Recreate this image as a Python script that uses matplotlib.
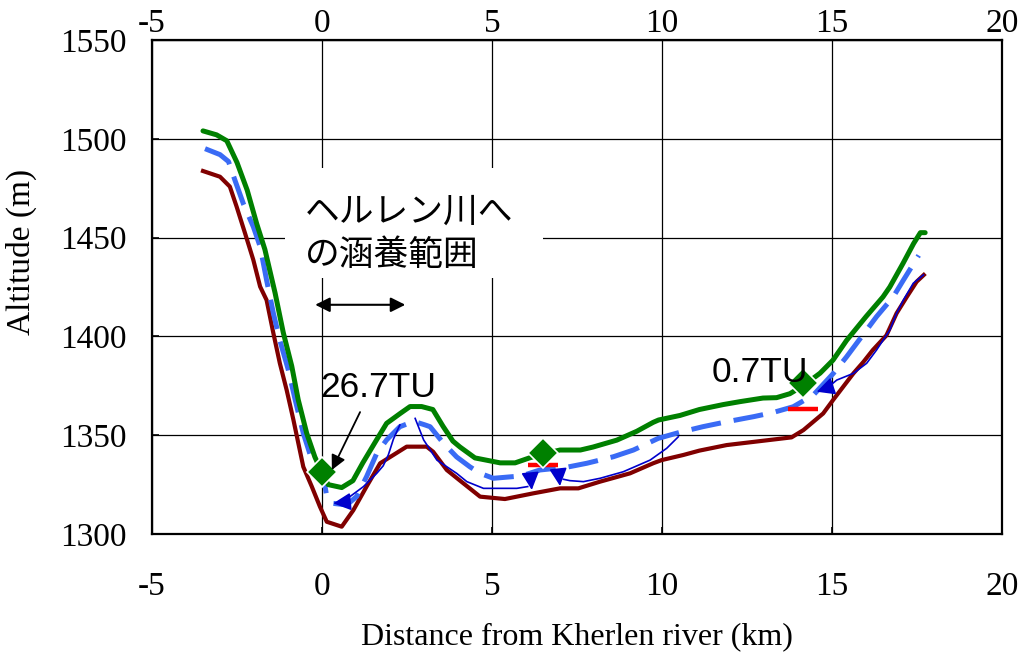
import matplotlib
matplotlib.use("Agg")
import matplotlib.pyplot as plt
from matplotlib.patches import Rectangle

# ground surface (green)
ground_x = [-3.5, -3.1, -2.8, -2.5, -2.2, -1.92, -1.68, -1.38, -1.14, -0.89, -0.7, -0.45, -0.21, 0.0,
            0.18, 0.58, 0.91, 1.2, 1.6, 1.9, 2.3, 2.59, 2.93, 3.26, 3.56, 3.85, 4.06, 4.5, 5.24, 5.68,
            6.1, 6.5, 7.0, 7.6, 7.97, 8.67, 9.26, 9.74, 9.9, 10.53, 11.1, 11.8, 12.3, 12.97, 13.37,
            13.76, 14.15, 14.65, 15.03, 15.43, 16.0, 16.5, 16.7, 17.09, 17.4, 17.6, 17.74]
ground_y = [1504, 1502, 1499, 1488, 1474, 1457, 1444, 1422, 1402, 1385, 1368, 1351, 1339, 1331,
            1325, 1323.5, 1327, 1336, 1347.5, 1356, 1361, 1364.5, 1364.5, 1363, 1354.5, 1347, 1344,
            1338.5, 1336, 1336, 1338.5, 1340.5, 1342.5, 1342.5, 1344, 1347.5, 1352, 1356.5, 1357.7,
            1360, 1363, 1365.5, 1367, 1368.8, 1369, 1371, 1375, 1381.4, 1388, 1398, 1410, 1420, 1425,
            1437, 1447, 1452.5, 1452.5]

# groundwater table (blue dashed)
water_x = [-3.44, -3.0, -2.75, -2.56, -2.31, -2.02, -1.82, -1.63, -1.43, -1.24, -0.99, -0.79, -0.55,
           -0.3, 0.09, 0.14, 0.33, 0.73, 1.02, 1.31, 1.61, 1.9, 2.29, 2.7, 3.03, 3.18, 3.57, 3.96,
           4.35, 4.65, 5.04, 5.87, 6.41, 7.2, 7.79, 8.57, 9.16, 9.89, 10.53, 11.2, 11.9, 12.7, 13.27,
           13.86, 14.45, 15.04, 15.43, 15.92, 16.31, 16.8, 17.1, 17.55]
water_y = [1495, 1492, 1488.5, 1479, 1467, 1455.5, 1445.5, 1428.5, 1411.7, 1398, 1383, 1368, 1351,
           1337.5, 1324, 1319, 1315.5, 1314.7, 1319, 1329, 1340.8, 1347.6, 1354.3, 1357, 1355.2,
           1354.3, 1346, 1339, 1334, 1330.7, 1328.2, 1329.4, 1332.4, 1333.8, 1335.8, 1339.1, 1342.5,
           1348.4, 1351.5, 1354.3, 1356.8, 1359.4, 1361.5, 1364.4, 1370.3, 1381.3, 1389.7, 1401,
           1410, 1420, 1428.5, 1441]

# aquifer bottom (dark red)
base_x = [-3.5, -3.0, -2.71, -2.51, -2.26, -2.02, -1.82, -1.63, -1.43, -1.24, -1.04, -0.84, -0.55,
          -0.3, -0.06, 0.14, 0.58, 0.92, 1.31, 1.71, 2.1, 2.49, 3.08, 3.27, 3.67, 4.06, 4.65, 5.38,
          6.22, 7.0, 7.54, 8.18, 9.06, 9.74, 9.99, 10.63, 11.1, 11.9, 12.88, 13.81, 14.16, 14.74,
          15.04, 15.63, 15.92, 16.2, 16.6, 16.9, 17.2, 17.49, 17.7]
base_y = [1483.7, 1480.8, 1475.8, 1465.6, 1452, 1438.7, 1425.2, 1418.4, 1401.6, 1386.4, 1372.9,
          1357.7, 1334, 1324, 1313.8, 1306.2, 1303.7, 1312, 1324, 1335.8, 1340, 1344.2, 1344.2,
          1341.6, 1332.4, 1327, 1318.9, 1317.7, 1320.6, 1323.1, 1323.1, 1326.5, 1330.7, 1335.8,
          1337.4, 1340, 1342.2, 1345, 1347, 1348.9, 1352.6, 1361, 1368, 1381.3, 1387, 1393.1,
          1400.5, 1411.7, 1420, 1427.7, 1431.1]

# flow lines (thin blue) and their arrow heads (base -> tip)
flow1_x = [2.29, 2.1, 1.95, 1.8, 1.61, 1.22, 0.82]
flow1_y = [1355.2, 1348, 1340, 1334.5, 1330.7, 1324, 1318.9]
flow2_x = [2.74, 2.99, 3.38, 3.96, 4.26, 4.75, 5.73, 6.05]
flow2_y = [1358.5, 1347.6, 1337.4, 1330.7, 1326.5, 1323.1, 1323.1, 1324]
flow3_x = [10.48, 10.14, 9.65, 8.86, 8.18, 7.69, 7.29, 7.1]
flow3_y = [1349.2, 1343.4, 1337.4, 1331.5, 1328.2, 1326.5, 1327, 1327.7]
flow4_x = [17.69, 17.39, 17.1, 16.9, 16.7, 16.31, 16.02, 15.63, 15.14, 14.95]
flow4_y = [1431.1, 1426.9, 1418.4, 1411.7, 1403.2, 1393.1, 1386.4, 1381.3, 1377.9, 1375.2]
head_base = [(0.78, 1316.3), (6.14, 1327.8), (6.96, 1330.7), (14.99, 1374.6)]
head_tip = [(0.33, 1315.5), (6.17, 1322.3), (7.0, 1324.3), (14.55, 1372.0)]

# tritium sample points
sample_x = [0.0, 6.5, 14.15]
sample_y = [1331.5, 1341, 1376.3]

# well screens (red)
screen_x0 = [6.06, 13.7]
screen_x1 = [6.94, 14.6]
screen_y = [1334.9, 1363.3]

x_ticks = [-5, 0, 5, 10, 15, 20]
y_ticks = [1300, 1350, 1400, 1450, 1500, 1550]

plt.rcParams["font.family"] = ["Liberation Serif", "DejaVu Serif"]
plt.rcParams["axes.unicode_minus"] = False
sans = ["Liberation Sans", "DejaVu Sans"]
jp = ["Noto Sans CJK JP", "DejaVu Sans"]

fig = plt.figure(figsize=(10.25, 6.52), dpi=100)
ax = fig.add_axes([152 / 1025, 1 - 534 / 652, 850 / 1025, 494 / 652])

ax.set_xlim(-5, 20)
ax.set_ylim(1300, 1550)
ax.set_xticks(x_ticks)
ax.set_yticks(y_ticks)
ax.grid(True, color="black", linewidth=0.9)
ax.set_axisbelow(True)
for s in ax.spines.values():
    s.set_linewidth(1.6)
ax.tick_params(axis="x", direction="in", length=5, width=1.2, labelsize=24, pad=27)
ax.tick_params(axis="y", direction="in", length=5, width=1.2, labelsize=24, pad=18)

top = ax.secondary_xaxis("top")
top.set_xticks(x_ticks)
top.tick_params(direction="in", length=0, labelsize=24, pad=0.5)

# white label box that hides the grid behind the Japanese text
ax.add_patch(Rectangle((-1.09, 1429.6), 7.6, 55.6, facecolor="white", edgecolor="none", zorder=1.5))
ax.text(-0.5, 1463, "ヘルレン川へ", family=jp, fontsize=25, va="center", ha="left", zorder=3)
ax.text(-0.5, 1441, "の涵養範囲", family=jp, fontsize=25, va="center", ha="left", zorder=3)
ax.annotate("", xy=(-0.2, 1416), xytext=(2.45, 1416),
            arrowprops=dict(arrowstyle="<|-|>", color="black", lw=1.5, mutation_scale=22,
                            shrinkA=0, shrinkB=0), zorder=3)

ax.plot(base_x, base_y, color="#800000", linewidth=3.0, zorder=3)
ax.plot(water_x, water_y, color="#3A6BF5", linewidth=3.6, linestyle=(0, (6, 2.6)), zorder=3)
ax.plot(ground_x, ground_y, color="#008000", linewidth=3.6, zorder=3,
        solid_capstyle="round", solid_joinstyle="round")

for fx, fy in [(flow1_x, flow1_y), (flow2_x, flow2_y), (flow3_x, flow3_y), (flow4_x, flow4_y)]:
    ax.plot(fx, fy, color="#0000CC", linewidth=1.2, zorder=4)
for b, t in zip(head_base, head_tip):
    ax.annotate("", xy=t, xytext=b,
                arrowprops=dict(arrowstyle="-|>", color="#0000CC", lw=1.2, mutation_scale=27,
                                shrinkA=0, shrinkB=0), zorder=4)

ax.hlines(screen_y, screen_x0, screen_x1, color="#FF0000", linewidth=3.2, zorder=4)
ax.plot(sample_x, sample_y, linestyle="none", marker="D", markersize=15,
        color="#008000", markeredgecolor="white", markeredgewidth=1.2, zorder=5)

ax.text(-0.06, 1369.5, "26.7TU", family=sans, fontsize=25.5, va="baseline", ha="left", zorder=6)
ax.text(11.46, 1377.1, "0.7TU", family=sans, fontsize=25.5, va="baseline", ha="left", zorder=6)
ax.annotate("", xy=(0.29, 1332.4), xytext=(1.12, 1361.7),
            arrowprops=dict(arrowstyle="-|>", color="black", lw=1.3, mutation_scale=22,
                            shrinkA=0, shrinkB=0), zorder=6)

ax.set_xlabel("Distance from Kherlen river (km)", fontsize=23)
ax.set_ylabel("Altitude (m)", fontsize=24)
ax.xaxis.set_label_coords(0.5, -0.178)
ax.yaxis.set_label_coords(-0.135, 0.571)

fig.savefig("out.png", dpi=100)
